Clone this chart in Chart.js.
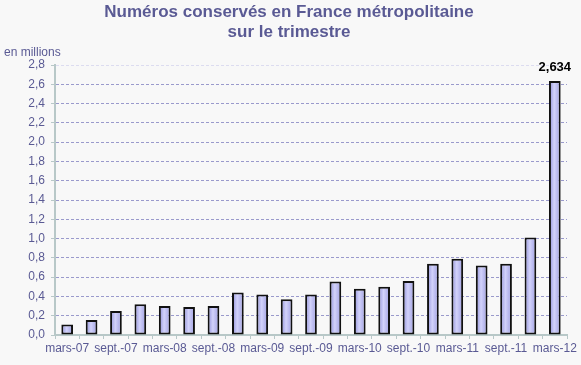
<!DOCTYPE html>
<html>
<head>
<meta charset="utf-8">
<script src="https://cdn.jsdelivr.net/npm/chart.js@4/dist/chart.umd.min.js"></script>
<style>
  body { margin: 0; background: #f8f8f8; }
</style>
</head>
<body>
<canvas id="numerosChart" width="581" height="365"></canvas>
<script>
// Trimestres (un libellé sur deux est affiché)
const trimestres = ['mars-07', 'juin-07', 'sept.-07', 'déc.-07', 'mars-08', 'juin-08', 'sept.-08', 'déc.-08',
    'mars-09', 'juin-09', 'sept.-09', 'déc.-09', 'mars-10', 'juin-10', 'sept.-10', 'déc.-10',
    'mars-11', 'juin-11', 'sept.-11', 'déc.-11', 'mars-12'];

// Numéros conservés, en millions
const numerosConserves = [0.11, 0.155, 0.25, 0.32, 0.30, 0.29, 0.30, 0.44, 0.42, 0.37, 0.42,
    0.555, 0.48, 0.50, 0.56, 0.74, 0.79, 0.72, 0.74, 1.01, 2.634];

const titreLignes = ['Numéros conservés en France métropolitaine', 'sur le trimestre'];
const uniteLabel = 'en millions';
const derniereValeurLabel = '2,634';

const bleuTexte = '#5a5a94';
const police = '"Liberation Sans", Arial, sans-serif';

function formatVirgule(v) {
    return v.toFixed(1).replace('.', ',');
}

// Dégradé horizontal pour chaque barre
function remplissageBarre(context) {
    const chart = context.chart;
    const xScale = chart.scales.x;
    if (!xScale || context.dataIndex === undefined) {
        return '#b6b6f0';
    }
    const x = xScale.getPixelForValue(context.dataIndex);
    if (!isFinite(x)) {
        return '#b6b6f0';
    }
    const g = chart.ctx.createLinearGradient(x - 6, 0, x + 6, 0);
    g.addColorStop(0, '#8c8cd8');
    g.addColorStop(0.45, '#d2d2fa');
    g.addColorStop(1, '#9c9ce0');
    return g;
}

// Fond, titre, unité et étiquette de la dernière barre
const decorPlugin = {
    id: 'decor',
    beforeDraw(chart) {
        const ctx = chart.ctx;
        ctx.save();
        ctx.fillStyle = '#f8f8f8';
        ctx.fillRect(0, 0, chart.width, chart.height);
        ctx.restore();
    },
    afterDraw(chart) {
        const ctx = chart.ctx;
        ctx.save();
        ctx.fillStyle = bleuTexte;
        ctx.textAlign = 'center';
        ctx.textBaseline = 'middle';
        ctx.font = 'bold 17px ' + police;
        ctx.fillText(titreLignes[0], 289, 12);
        ctx.fillText(titreLignes[1], 289, 32);

        ctx.textAlign = 'left';
        ctx.font = '12px ' + police;
        ctx.fillText(uniteLabel, 4, 53);

        const meta = chart.getDatasetMeta(0);
        const last = meta.data[meta.data.length - 1];
        ctx.fillStyle = '#000';
        ctx.textAlign = 'center';
        ctx.font = 'bold 13px ' + police;
        ctx.fillText(derniereValeurLabel, last.x, last.y - 14);
        ctx.restore();
    }
};

const ctx = document.getElementById('numerosChart').getContext('2d');
new Chart(ctx, {
    type: 'bar',
    data: {
        labels: trimestres,
        datasets: [{
            data: numerosConserves,
            backgroundColor: remplissageBarre,
            borderColor: '#111',
            borderWidth: 2,
            borderSkipped: false,
            categoryPercentage: 1,
            barPercentage: 0.48
        }]
    },
    options: {
        responsive: false,
        animation: false,
        layout: { padding: { top: 65, right: 14, left: 0, bottom: 0 } },
        plugins: {
            legend: { display: false },
            title: { display: false },
            tooltip: { enabled: false }
        },
        scales: {
            x: {
                offset: true,
                border: { color: '#b8c8c8', width: 2 },
                grid: {
                    drawOnChartArea: false,
                    drawTicks: true,
                    tickLength: 4,
                    tickColor: '#b8c8c8',
                    offset: true
                },
                ticks: {
                    autoSkip: false,
                    maxRotation: 0,
                    color: bleuTexte,
                    font: { family: police, size: 12 },
                    padding: 2,
                    callback: function (value, index) {
                        return index % 2 === 0 ? trimestres[index] : '';
                    }
                },
                afterFit(axis) { axis.height = 30; }
            },
            y: {
                min: 0,
                max: 2.8,
                border: { color: '#b8c8c8', width: 2, dash: [3, 2] },
                grid: {
                    color: function (c) {
                        if (c.index === 0) return 'rgba(0,0,0,0)';
                        return c.index === 14 ? '#dcdcf0' : '#9a9acc';
                    },
                    tickLength: 4,
                    tickColor: '#b8c8c8',
                    tickBorderDash: []
                },
                ticks: {
                    stepSize: 0.2,
                    color: bleuTexte,
                    font: { family: police, size: 12 },
                    padding: 6,
                    callback: function (v) { return formatVirgule(v); }
                },
                afterFit(axis) { axis.width = 55; }
            }
        }
    },
    plugins: [decorPlugin]
});
</script>
</body>
</html>
